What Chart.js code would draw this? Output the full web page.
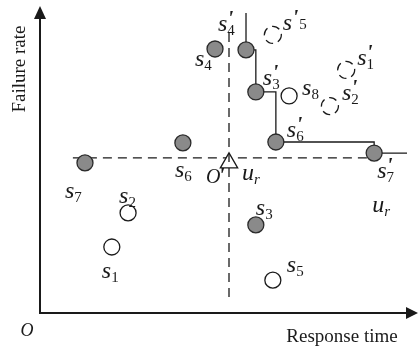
<!DOCTYPE html>
<html>
<head>
<meta charset="utf-8">
<script src="https://cdn.jsdelivr.net/npm/chart.js@4"></script>
<style>
  html, body { margin: 0; padding: 0; background: #fff; }
  canvas { display: block; }
</style>
</head>
<body>
<canvas id="chart" width="419" height="349"></canvas>
<script>
// services as (response time, failure rate), arbitrary units 0..100
const filledNames = ['s3', 's4', 's6', 's7', "s'3", "s'4", "s'6", "s'7"]
const filledX = [57.1, 46.3, 37.8, 11.9, 57.1, 54.5, 62.4, 88.4]
const filledY = [28.7, 86.0, 55.4, 48.9, 72.0, 85.7, 55.7, 52.1]

const openNames = ['s1', 's2', 's5', 's8']
const openX = [19.0, 23.3, 61.6, 65.9]
const openY = [21.5, 32.6, 10.7, 70.7]

// moved (dashed) services
const movedNames = ["s'1", "s'2", "s'5"]
const movedX = [81.0, 76.7, 61.6]
const movedY = [79.2, 67.4, 90.6]

// skyline through the s' points
const frontierX = [54.5, 54.5, 57.1, 62.4, 88.4, 97.1]
const frontierY = [97.7, 85.7, 72.0, 55.7, 52.1, 52.1]

// reference point O' / u_r and its dashed cross
const refX = [50.0]
const refY = [48.9]
const crossHX = [8.7, 88.4]
const crossHY = [50.5, 50.5]
const crossVX = [50.0, 50.0]
const crossVY = [91.2, 4.6]

const axisTitleX = 'Response time'
const axisTitleY = 'Failure rate'
const originLabel = 'O'

// label placement, pixels from the point centre (left edge / baseline of the "s")
const labelOffsets = {
  s1: [-10, 31], s2: [-9, -10], s3: [0, -10], s4: [-20, 17],
  s5: [14, -8], s6: [-8, 34], s7: [-20, 35], s8: [13, -1],
  "s'1": [11, -5], "s'2": [12, -6], "s'3": [7, -7], "s'4": [-28, -19],
  "s'5": [10, -5], "s'6": [11, -5], "s'7": [3, 25]
}
const inlinePrime = ["s'5"]

function toPoints(xs, ys) {
  return xs.map((x, i) => ({ x: x, y: ys[i] }))
}

const INK = '#1a1a1a'
const SERIF = '"Liberation Serif", "DejaVu Serif", serif'

function drawPrime(ctx, x, y) {
  ctx.font = 'bold italic 22px ' + SERIF
  ctx.fillText("'", x, y)
  return ctx.measureText("'").width
}

function drawMath(ctx, x, y, base, prime, sub, inline, subItalic) {
  ctx.fillStyle = INK
  ctx.textBaseline = 'alphabetic'
  ctx.textAlign = 'left'
  ctx.font = 'italic 24px ' + SERIF
  ctx.fillText(base, x, y)
  let w = ctx.measureText(base).width
  if (prime) {
    const pw = drawPrime(ctx, x + w, y - 6)
    if (inline) w += pw + 1
  }
  if (sub) {
    ctx.font = (subItalic ? 'italic ' : '') + '15px ' + SERIF
    ctx.fillText(sub, x + w, inline ? y - 1 : y + 4)
  }
}

function parseName(name) {
  const prime = name.indexOf("'") >= 0
  const sub = name.replace("'", '').slice(1)
  return { base: name[0], prime: prime, sub: sub }
}

// point labels (s_i, s'_i, O', u_r)
const mathLabels = {
  id: 'mathLabels',
  afterDatasetsDraw(chart) {
    const ctx = chart.ctx
    ctx.save()
    chart.data.datasets.forEach((ds, di) => {
      const meta = chart.getDatasetMeta(di)
      if (ds.names) {
        ds.names.forEach((name, i) => {
          const el = meta.data[i]
          const off = labelOffsets[name]
          const p = parseName(name)
          drawMath(ctx, el.x + off[0], el.y + off[1], p.base, p.prime, p.sub, inlinePrime.includes(name), false)
          if (name === "s'7") {
            drawMath(ctx, el.x - 2, el.y + 59, 'u', false, 'r', false, true)
          }
        })
      }
      if (ds.isRef) {
        const el = meta.data[0]
        ctx.fillStyle = INK
        ctx.font = 'italic 20px ' + SERIF
        ctx.fillText('O', el.x - 23, el.y + 20)
        const w = ctx.measureText('O').width
        drawPrime(ctx, el.x - 25 + w, el.y + 19)
        drawMath(ctx, el.x + 13, el.y + 17, 'u', false, 'r', false, true)
      }
    })
    ctx.restore()
  }
}

// axes with arrow heads and titles
const arrowAxes = {
  id: 'arrowAxes',
  afterDraw(chart) {
    const ctx = chart.ctx
    const a = chart.chartArea
    const x0 = chart.scales.x.getPixelForValue(0)
    const y0 = chart.scales.y.getPixelForValue(0)
    ctx.save()
    ctx.strokeStyle = INK
    ctx.fillStyle = INK
    ctx.lineWidth = 2
    ctx.beginPath()
    ctx.moveTo(x0, y0 + 1)
    ctx.lineTo(x0, a.top + 10)
    ctx.moveTo(x0 - 1, y0)
    ctx.lineTo(a.right - 10, y0)
    ctx.stroke()
    ctx.beginPath()
    ctx.moveTo(x0, a.top)
    ctx.lineTo(x0 - 6, a.top + 13)
    ctx.lineTo(x0 + 6, a.top + 13)
    ctx.closePath()
    ctx.fill()
    ctx.beginPath()
    ctx.moveTo(a.right, y0)
    ctx.lineTo(a.right - 12, y0 - 6)
    ctx.lineTo(a.right - 12, y0 + 6)
    ctx.closePath()
    ctx.fill()

    ctx.font = '19px ' + SERIF
    ctx.textAlign = 'center'
    ctx.textBaseline = 'alphabetic'
    ctx.fillText(axisTitleX, 342, y0 + 29)
    ctx.save()
    ctx.translate(x0 - 15, 69)
    ctx.rotate(-Math.PI / 2)
    ctx.fillText(axisTitleY, 0, 0)
    ctx.restore()
    ctx.font = 'italic 18px ' + SERIF
    ctx.fillText(originLabel, x0 - 13, y0 + 23)
    ctx.restore()
  }
}

// dashed outline for the moved services
const dashedPoints = {
  id: 'dashedPoints',
  beforeDatasetDraw(chart, args) {
    const ds = chart.data.datasets[args.index]
    if (ds.pointDash) {
      chart.ctx.save()
      chart.ctx.setLineDash(ds.pointDash)
    }
  },
  afterDatasetDraw(chart, args) {
    const ds = chart.data.datasets[args.index]
    if (ds.pointDash) chart.ctx.restore()
  }
}

const config = {
  type: 'scatter',
  data: {
    datasets: [
      {
        names: filledNames,
        data: toPoints(filledX, filledY),
        pointRadius: 8,
        backgroundColor: '#8a8a8a',
        borderColor: '#2a2a2a',
        borderWidth: 1.3,
        order: 0
      },
      {
        names: openNames,
        data: toPoints(openX, openY),
        pointRadius: 8,
        backgroundColor: '#ffffff',
        borderColor: '#1a1a1a',
        borderWidth: 1.3,
        order: 0
      },
      {
        names: movedNames,
        data: toPoints(movedX, movedY),
        pointRadius: 8.5,
        backgroundColor: 'rgba(255,255,255,0)',
        borderColor: '#1a1a1a',
        borderWidth: 1.3,
        pointDash: [8, 5],
        order: 0
      },
      {
        data: toPoints(crossVX, crossVY),
        showLine: true,
        pointRadius: 0,
        borderColor: '#1a1a1a',
        borderWidth: 1.3,
        borderDash: [9, 6],
        order: 1
      },
      {
        isRef: true,
        data: toPoints(refX, refY),
        pointStyle: 'triangle',
        pointRadius: 10,
        backgroundColor: '#ffffff',
        borderColor: '#1a1a1a',
        borderWidth: 1.3,
        order: 2
      },
      {
        data: toPoints(crossHX, crossHY),
        showLine: true,
        pointRadius: 0,
        borderColor: '#1a1a1a',
        borderWidth: 1.3,
        borderDash: [9, 6],
        order: 3
      },
      {
        data: toPoints(frontierX, frontierY),
        showLine: true,
        stepped: true,
        pointRadius: 0,
        borderColor: '#1a1a1a',
        borderWidth: 1.3,
        order: 4
      }
    ]
  },
  options: {
    responsive: false,
    animation: false,
    devicePixelRatio: 1,
    layout: { autoPadding: false, padding: { left: 40, top: 6, right: 1, bottom: 36 } },
    plugins: {
      legend: { display: false },
      tooltip: { enabled: false }
    },
    scales: {
      x: { type: 'linear', min: 0, max: 100, display: false },
      y: { type: 'linear', min: 0, max: 100, display: false }
    }
  },
  plugins: [dashedPoints, mathLabels, arrowAxes]
}

new Chart(document.getElementById('chart'), config)
</script>
</body>
</html>
